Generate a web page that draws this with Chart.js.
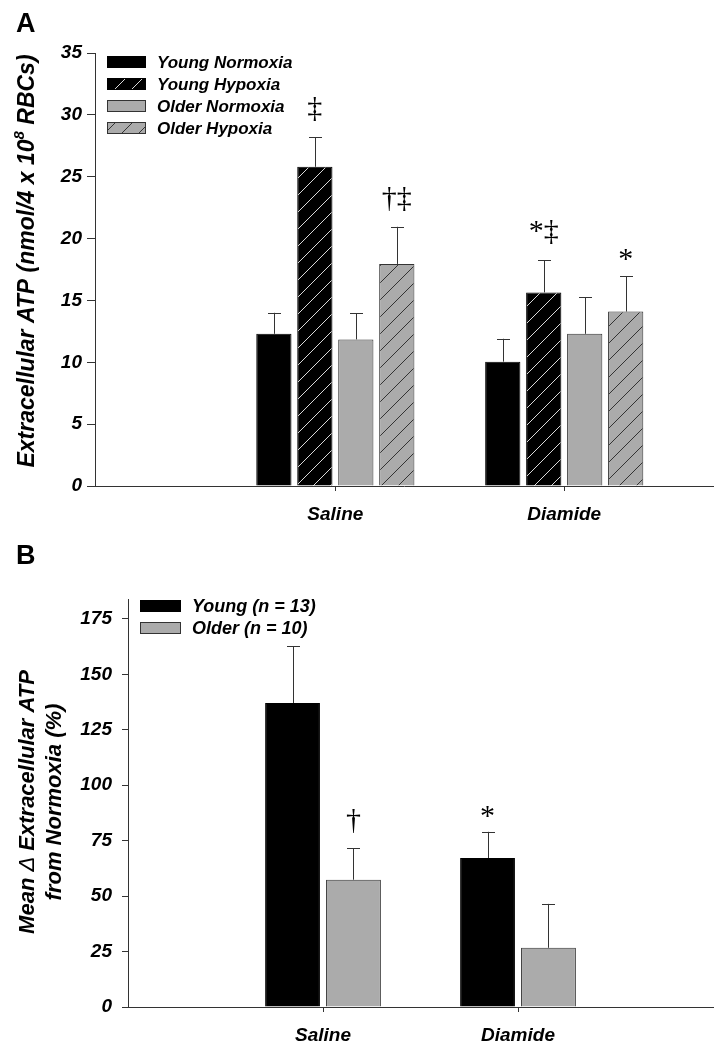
<!DOCTYPE html>
<html>
<head>
<meta charset="utf-8">
<script src="https://cdn.jsdelivr.net/npm/chart.js@4"></script>
<style>
html, body { margin: 0; padding: 0; background: #fff; }
#page { position: relative; width: 727px; height: 1050px; }
.panel { position: absolute; left: 0; width: 727px; height: 525px; }
.tag { position: absolute; font: bold 27px "Liberation Sans", Arial, sans-serif; color: #000; line-height: 31px; }
</style>
</head>
<body>
<div id="page">
    <div class="panel" style="top:0"><canvas id="chartA" width="727" height="525"></canvas></div>
    <div class="panel" style="top:525px"><canvas id="chartB" width="727" height="525"></canvas></div>
    <div class="tag" style="left:16px;top:8px">A</div>
    <div class="tag" style="left:16px;top:540px">B</div>
</div>
<script>
// ---- panel A data ----
const categoriesA = ['Saline', 'Diamide'];
const seriesA = ['Young Normoxia', 'Young Hypoxia', 'Older Normoxia', 'Older Hypoxia'];
const youngNormoxia = [12.3, 10.05];
const youngNormoxiaErr = [1.7, 1.85];
const youngHypoxia = [25.8, 15.65];
const youngHypoxiaErr = [2.4, 2.6];
const olderNormoxia = [11.85, 12.3];
const olderNormoxiaErr = [2.1, 2.95];
const olderHypoxia = [17.95, 14.1];
const olderHypoxiaErr = [3.0, 2.85];
const marksA = [['', ''], ['\u2021', '*\u2021'], ['', ''], ['\u2020\u2021', '*']];
const yTitleA = ['Extracellular ATP (nmol/4 x 10', '8', ' RBCs)'];

// ---- panel B data ----
const categoriesB = ['Saline', 'Diamide'];
const seriesB = ['Young (n = 13)', 'Older (n = 10)'];
const youngDelta = [137.1, 67.2];
const youngDeltaErr = [25.5, 11.8];
const olderDelta = [57.4, 26.7];
const olderDeltaErr = [14.1, 19.8];
const marksB = [['', '*'], ['\u2020', '']];
const yTitleB = [['Mean ', '\u0394', ' Extracellular ATP'], 'from Normoxia (%)'];

const SANS = '"Liberation Sans", Arial, sans-serif';
const BLACK = '#000000';
const GRAY = '#ababab';
const EDGE = '#333333';

function hatch(ctx, bg, line) {
    const c = document.createElement('canvas');
    c.width = 17;
    c.height = 17;
    const g = c.getContext('2d');
    g.fillStyle = bg;
    g.fillRect(0, 0, 17, 17);
    g.strokeStyle = line;
    g.lineWidth = 1;
    g.beginPath();
    g.moveTo(-1, 18); g.lineTo(18, -1);
    g.moveTo(-1, 1); g.lineTo(1, -1);
    g.moveTo(16, 18); g.lineTo(18, 16);
    g.stroke();
    return ctx.createPattern(c, 'repeat');
}

const toPoints = (vals) => vals.map((v, i) => ({ x: i + 1, y: v }));

// error bars (upper half only) + significance marks
const errorBars = {
    id: 'errorBars',
    afterDatasetsDraw(chart, args, opts) {
        const ctx = chart.ctx;
        const yScale = chart.scales.y;
        ctx.save();
        chart.data.datasets.forEach((ds, i) => {
            const meta = chart.getDatasetMeta(i);
            meta.data.forEach((bar, j) => {
                const top = yScale.getPixelForValue(ds.data[j].y + ds.errors[j]);
                ctx.strokeStyle = EDGE;
                ctx.lineWidth = 1;
                ctx.beginPath();
                ctx.moveTo(Math.round(bar.x) + 0.5, bar.y);
                ctx.lineTo(Math.round(bar.x) + 0.5, top);
                ctx.moveTo(Math.round(bar.x) - 6, Math.round(top) + 0.5);
                ctx.lineTo(Math.round(bar.x) + 7, Math.round(top) + 0.5);
                ctx.stroke();
                const txt = ds.marks[j];
                if (txt) {
                    ctx.font = '30px "Liberation Serif", "Times New Roman", serif';
                    ctx.fillStyle = '#000';
                    ctx.textAlign = 'center';
                    ctx.textBaseline = 'alphabetic';
                    const m = ctx.measureText(txt);
                    ctx.fillText(txt, bar.x, top - opts.gap - m.actualBoundingBoxDescent);
                }
            });
        });
        ctx.restore();
    },
};

// legend drawn inside the plot area
const boxLegend = {
    id: 'boxLegend',
    afterDraw(chart, args, opts) {
        const ctx = chart.ctx;
        ctx.save();
        chart.data.datasets.forEach((ds, i) => {
            const y = opts.y + i * opts.step;
            ctx.fillStyle = ds.backgroundColor;
            ctx.fillRect(opts.x, y - opts.h / 2, opts.w, opts.h);
            ctx.strokeStyle = ds.borderColor;
            ctx.lineWidth = 1;
            ctx.strokeRect(opts.x + 0.5, y - opts.h / 2 + 0.5, opts.w - 1, opts.h - 1);
            ctx.fillStyle = '#000';
            ctx.font = 'italic bold ' + opts.size + 'px ' + SANS;
            ctx.textAlign = 'left';
            ctx.textBaseline = 'middle';
            ctx.fillText(ds.label, opts.x + opts.w + opts.gap, y + 1);
        });
        ctx.restore();
    },
};

// rotated y title made of runs (font, text, raise)
const yTitle = {
    id: 'yTitle',
    afterDraw(chart, args, opts) {
        const ctx = chart.ctx;
        ctx.save();
        opts.lines.forEach((runs, k) => {
            ctx.save();
            ctx.translate(opts.xs[k], opts.y);
            ctx.rotate(-Math.PI / 2);
            ctx.textBaseline = 'middle';
            ctx.textAlign = 'left';
            ctx.fillStyle = '#000';
            let total = 0;
            runs.forEach((r) => { ctx.font = r[0]; total += ctx.measureText(r[1]).width; });
            let x = -total / 2;
            runs.forEach((r) => {
                ctx.font = r[0];
                ctx.fillText(r[1], x, -(r[2] || 0));
                x += ctx.measureText(r[1]).width;
            });
            ctx.restore();
        });
        ctx.restore();
    },
};

function axisFont(size) {
    return { family: SANS, size: size, style: 'italic', weight: 'bold' };
}

function makeOptions(p) {
    return {
        responsive: false,
        animation: false,
        layout: { padding: { left: 0, right: 14, top: p.top, bottom: 0 } },
        plugins: {
            legend: { display: false },
            tooltip: { enabled: false },
            errorBars: { gap: p.markGap },
            boxLegend: p.legend,
            yTitle: p.title,
        },
        scales: {
            x: {
                type: 'linear',
                min: p.xMin,
                max: p.xMax,
                offset: false,
                bounds: 'data',
                afterBuildTicks(scale) {
                    scale.ticks = p.categories.map((c, i) => ({ value: i + 1 }));
                },
                afterFit(scale) { scale.height = p.xHeight; },
                border: { color: EDGE, width: 1 },
                grid: { offset: false, drawOnChartArea: false, drawTicks: true, tickLength: 5, color: EDGE },
                ticks: {
                    color: '#000',
                    font: axisFont(19),
                    padding: p.xPad,
                    maxRotation: 0,
                    autoSkip: false,
                    callback: (v, i) => p.categories[i],
                },
            },
            y: {
                min: 0,
                max: p.yMax,
                afterFit(scale) { scale.width = p.yWidth; },
                border: { color: EDGE, width: 1 },
                grid: { drawOnChartArea: false, drawTicks: true, tickLength: p.yTick, color: EDGE },
                ticks: {
                    color: '#000',
                    font: axisFont(19),
                    stepSize: p.yStep,
                    includeBounds: false,
                    padding: p.yPad,
                },
            },
        },
    };
}

// ---- chart A ----
const ctxA = document.getElementById('chartA').getContext('2d');
const hatchBlack = hatch(ctxA, BLACK, '#d8d8d8');
const hatchGray = hatch(ctxA, GRAY, EDGE);
const valsA = [youngNormoxia, youngHypoxia, olderNormoxia, olderHypoxia];
const errsA = [youngNormoxiaErr, youngHypoxiaErr, olderNormoxiaErr, olderHypoxiaErr];
const fillsA = [BLACK, hatchBlack, GRAY, hatchGray];
const edgesA = [BLACK, BLACK, EDGE, EDGE];

new Chart(ctxA, {
    type: 'bar',
    data: {
        datasets: seriesA.map((name, i) => ({
            label: name,
            data: toPoints(valsA[i]),
            errors: errsA[i],
            marks: marksA[i],
            backgroundColor: fillsA[i],
            borderColor: edgesA[i],
            borderWidth: 1,
            categoryPercentage: 0.716,
            barPercentage: 0.86,
        })),
    },
    options: makeOptions({
        categories: categoriesA,
        top: 53, xHeight: 39, yWidth: 95, yTick: 8, yPad: 5, xPad: 12,
        xMin: -0.05, xMax: 2.65, yMax: 35, yStep: 5, markGap: 16,
        legend: { x: 107, y: 62, step: 22, w: 39, h: 12, gap: 11, size: 17 },
        title: {
            xs: [28], y: 261,
            lines: [[
                ['italic bold 23px ' + SANS, yTitleA[0]],
                ['italic bold 15px ' + SANS, yTitleA[1], 8],
                ['italic bold 23px ' + SANS, yTitleA[2]],
            ]],
        },
    }),
    plugins: [errorBars, boxLegend, yTitle],
});

// ---- chart B ----
const ctxB = document.getElementById('chartB').getContext('2d');
const valsB = [youngDelta, olderDelta];
const errsB = [youngDeltaErr, olderDeltaErr];
const fillsB = [BLACK, GRAY];
const edgesB = [BLACK, EDGE];

new Chart(ctxB, {
    type: 'bar',
    data: {
        datasets: seriesB.map((name, i) => ({
            label: name,
            data: toPoints(valsB[i]),
            errors: errsB[i],
            marks: marksB[i],
            backgroundColor: fillsB[i],
            borderColor: edgesB[i],
            borderWidth: 1,
            categoryPercentage: 0.625,
            barPercentage: 0.9,
        })),
    },
    options: makeOptions({
        categories: categoriesB,
        top: 74, xHeight: 43, yWidth: 128, yTick: 6, yPad: 10, xPad: 12,
        xMin: 0, xMax: 3, yMax: 184, yStep: 25, markGap: 15,
        legend: { x: 140, y: 81, step: 22, w: 41, h: 12, gap: 11, size: 18 },
        title: {
            xs: [28, 55], y: 277,
            lines: [
                [
                    ['italic bold 22px ' + SANS, yTitleB[0][0]],
                    ['italic 22px ' + SANS, yTitleB[0][1]],
                    ['italic bold 22px ' + SANS, yTitleB[0][2]],
                ],
                [['italic bold 22px ' + SANS, yTitleB[1]]],
            ],
        },
    }),
    plugins: [errorBars, boxLegend, yTitle],
});
</script>
</body>
</html>
